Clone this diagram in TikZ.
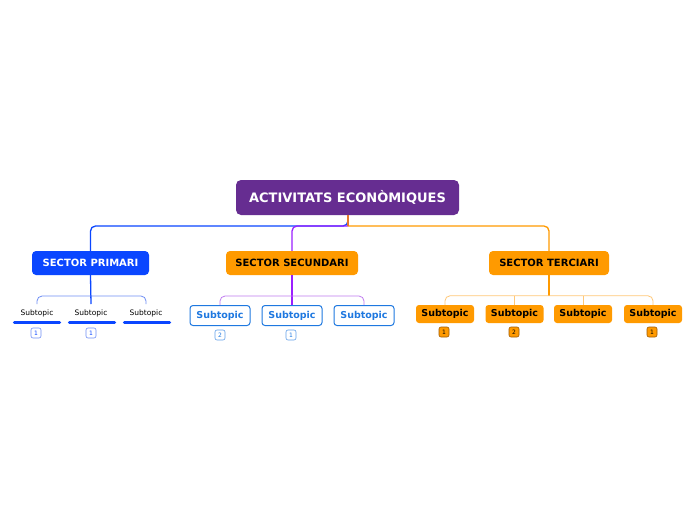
\documentclass[tikz,border=0pt]{standalone}
\usepackage{fontspec}
\setmainfont{DejaVu Sans}
\usetikzlibrary{calc}
\definecolor{rootc}{HTML}{662D91}
\definecolor{bluec}{HTML}{0A46FF}
\definecolor{lblue}{HTML}{6F8EF5}
\definecolor{purc}{HTML}{9B1FFF}
\definecolor{lpur}{HTML}{C07CF0}
\definecolor{orc}{HTML}{FF9A00}
\definecolor{lor}{HTML}{FFC878}
\definecolor{stemc}{HTML}{E8782A}
\definecolor{subblue}{HTML}{1E78E0}
\definecolor{badgeor}{HTML}{A05A00}
\tikzset{
  x=1pt, y=-1pt,
  rootbox/.style={fill=rootc, rounded corners=5pt, text=white, font=\bfseries\fontsize{13}{15}\selectfont, minimum width=223pt, minimum height=35pt, inner sep=0pt},
  secbox/.style={rounded corners=4pt, font=\bfseries\fontsize{10}{12}\selectfont, minimum height=24pt, inner sep=0pt},
  plainsub/.style={font=\fontsize{7.5}{9}\selectfont, inner sep=0pt},
  bar/.style={bluec, line width=3.5pt, line cap=round},
  bluesub/.style={draw=subblue, line width=1pt, fill=white, rounded corners=3pt, text=subblue, font=\bfseries\fontsize{9.5}{11}\selectfont, minimum width=60pt, minimum height=20pt, inner sep=0pt},
  orsub/.style={fill=orc, rounded corners=3pt, text=black, font=\bfseries\fontsize{9.5}{11}\selectfont, minimum width=58pt, minimum height=18pt, inner sep=0pt},
  badge/.style={rounded corners=2pt, line width=0.6pt, font=\fontsize{6}{7}\selectfont, minimum width=10pt, minimum height=10pt, inner sep=0pt},
  conn/.style={line width=1.3pt, rounded corners=5pt},
  lconn/.style={line width=0.8pt, rounded corners=5pt},
}
\begin{document}
\begin{tikzpicture}
\useasboundingbox (0,0) rectangle (696,520);
\fill[white] (0,0) rectangle (696,520);

% root
\node[rootbox] (root) at (347.5,197.5) {ACTIVITATS ECONÒMIQUES};
% sectors
\node[secbox, fill=bluec, text=white, minimum width=117pt] (prim) at (90.5,263) {SECTOR PRIMARI};
\node[secbox, fill=orc, text=black, minimum width=132pt] (secu) at (292,263) {SECTOR SECUNDARI};
\node[secbox, fill=orc, text=black, minimum width=120pt] (terc) at (549,263) {SECTOR TERCIARI};

\coordinate (hub) at (348,226);
% main connectors
\draw[conn, bluec] (root.south -| hub) -- (hub) -- (prim.north |- hub) -- (prim.north);
\draw[conn, purc] (hub) -- (secu.north |- hub) -- (secu.north);
\draw[conn, orc] (hub) -- (terc.north |- hub) -- (terc.north);
\draw[line width=1.3pt, stemc] (root.south -| hub) -- (hub);

% primari children
\node[plainsub] (p1) at (37,313) {Subtopic};
\node[plainsub] (p2) at (91,313) {Subtopic};
\node[plainsub] (p3) at (146,313) {Subtopic};
\coordinate (p1b) at (37,304);
\coordinate (p2b) at (91,304);
\coordinate (p3b) at (146,304);
\draw[line width=1.3pt, bluec] (prim.south) -- (p2b);
\draw[lconn, lblue] (p1b) -- ($(p1b)+(0,-8)$) -- ($(p3b)+(0,-8)$) -- (p3b);
\draw[bar] (14.5,322.5) -- (59.5,322.5);
\draw[bar] (69.5,322.5) -- (114.5,322.5);
\draw[bar] (124.5,322.5) -- (169.5,322.5);
\node[badge, draw=lblue, text=bluec] (pb1) at (36,333) {1};
\node[badge, draw=lblue, text=bluec] (pb2) at (91,333) {1};

% secundari children
\node[bluesub] (s1) at (220,315.5) {Subtopic};
\node[bluesub] (s2) at (292,315.5) {Subtopic};
\node[bluesub] (s3) at (364,315.5) {Subtopic};
\draw[line width=1.3pt, purc] (secu.south) -- (s2.north);
\draw[lconn, lpur] (s1.north) -- ($(s1.north)+(0,-9)$) -- ($(s3.north)+(0,-9)$) -- (s3.north);
\node[badge, draw=subblue!70, text=subblue] (sb1) at (220,335) {2};
\node[badge, draw=subblue!70, text=subblue] (sb2) at (291,335) {1};

% terciari children
\node[orsub] (t1) at (445,314) {Subtopic};
\node[orsub] (t2) at (514.5,314) {Subtopic};
\node[orsub] (t3) at (583,314) {Subtopic};
\node[orsub] (t4) at (653,314) {Subtopic};
\draw[line width=1.3pt, orc] (terc.south) -- ($(terc.south)+(0,21)$);
\draw[lconn, lor] (t1.north) -- ($(t1.north)+(0,-9)$) -- ($(t4.north)+(0,-9)$) -- (t4.north);
\draw[lconn, lor] ($(t2.north)+(0,-9)$) -- (t2.north);
\draw[lconn, lor] ($(t3.north)+(0,-9)$) -- (t3.north);
\node[badge, fill=orc, draw=badgeor, text=black] (tb1) at (444,332) {1};
\node[badge, fill=orc, draw=badgeor, text=black] (tb2) at (514,332) {2};
\node[badge, fill=orc, draw=badgeor, text=black] (tb3) at (652,332) {1};
\end{tikzpicture}
\end{document}
